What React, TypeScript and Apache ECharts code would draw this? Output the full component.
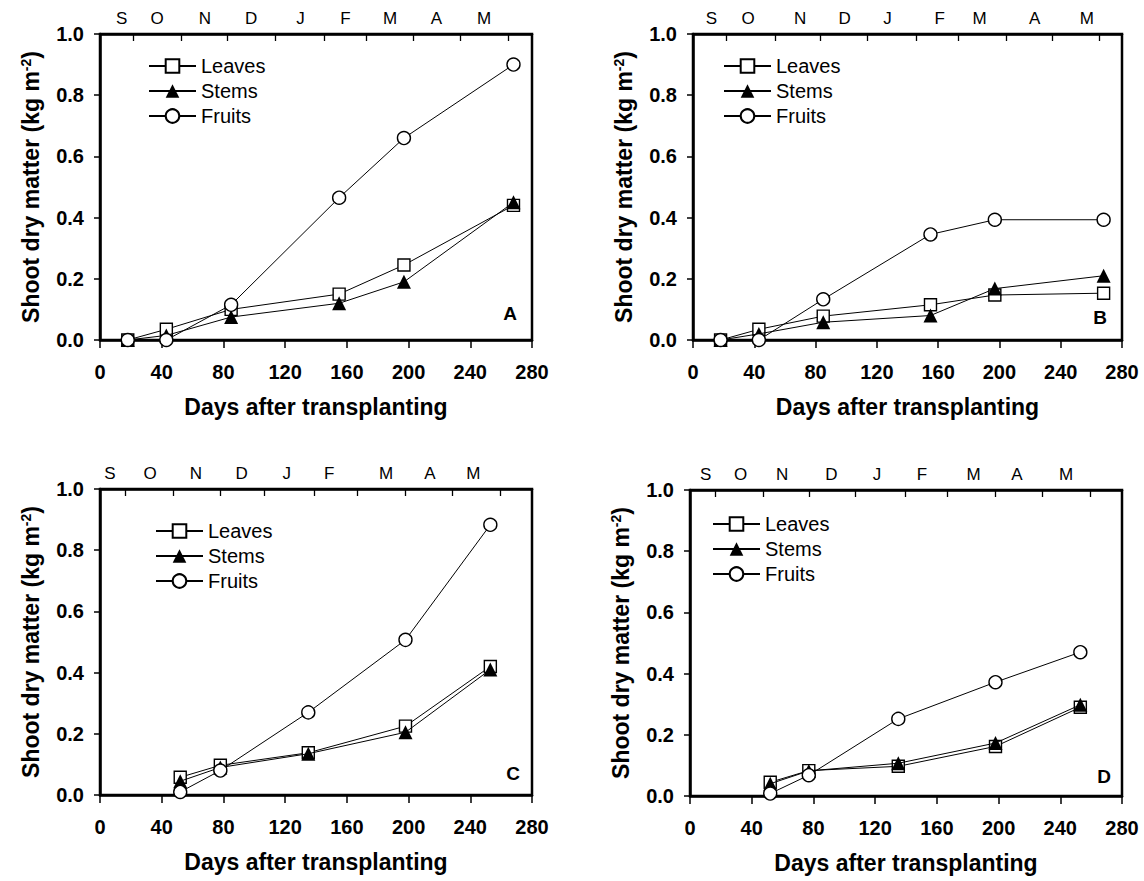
import React, { useEffect, useRef } from 'react';
import * as echarts from 'echarts';

// ---------- data ----------
const monthLetters = ['S', 'O', 'N', 'D', 'J', 'F', 'M', 'A', 'M'];

const daysA = [18, 43, 85, 155, 197, 268];
const leavesA = [0.0, 0.035, 0.1, 0.15, 0.245, 0.44];
const stemsA = [0.0, 0.015, 0.075, 0.12, 0.19, 0.45];
const fruitsA = [0.0, 0.0, 0.115, 0.465, 0.66, 0.9];
const monthTicksA = [21.6, 52.9, 82.8, 113.9, 145.4, 172.8, 203, 233.3, 264.6];
const monthLabelPosA = [14, 37, 68, 98, 130, 159, 188, 218, 249];

const daysB = [18, 43, 85, 155, 197, 268];
const leavesB = [0.0, 0.035, 0.078, 0.115, 0.147, 0.153];
const stemsB = [0.0, 0.02, 0.058, 0.08, 0.168, 0.21];
const fruitsB = [0.0, 0.0, 0.133, 0.345, 0.393, 0.393];
const monthTicksB = [22, 53.5, 83, 114, 145.6, 172.9, 204.3, 234.8, 264.9];
const monthLabelPosB = [12, 36, 70, 99, 127, 161, 187, 223, 257];

const daysC = [52, 78, 135, 198, 253];
const leavesC = [0.058, 0.097, 0.138, 0.225, 0.42];
const stemsC = [0.045, 0.09, 0.135, 0.205, 0.41];
const fruitsC = [0.01, 0.08, 0.27, 0.507, 0.883];
const monthTicksC = [16.2, 47.5, 77.8, 106.5, 138.9, 167, 198.1, 228.3, 259.2];
const monthLabelPosC = [6.5, 32.4, 62.2, 91.8, 121, 148.6, 185.4, 213.9, 242];

const daysD = [52, 77, 135, 198, 253];
const leavesD = [0.045, 0.083, 0.097, 0.162, 0.29];
const stemsD = [0.04, 0.082, 0.107, 0.173, 0.298];
const fruitsD = [0.008, 0.068, 0.252, 0.372, 0.47];
const monthTicksD = [16.2, 47.5, 77.5, 106.8, 139.2, 166.6, 197.9, 228.1, 259.3];
const monthLabelPosD = [10.2, 32.8, 59.8, 91.7, 121.2, 150.3, 183.8, 211.9, 243.8];

const seriesNames = ['Leaves', 'Stems', 'Fruits'];
const xTickLabels = [0, 40, 80, 120, 160, 200, 240, 280];
const yTickLabels = [0, 0.2, 0.4, 0.6, 0.8, 1.0];
const panelLetters = ['A', 'B', 'C', 'D'];

// ---------- layout ----------
const SANS = '"Liberation Sans", Arial, sans-serif';

const panels = [
  { days: daysA, vals: [leavesA, stemsA, fruitsA], ticks: monthTicksA, labs: monthLabelPosA,
    grid: { left: 100, top: 34, width: 432, height: 306 }, legend: { left: 148, top: 56 }, letter: [510, 313] },
  { days: daysB, vals: [leavesB, stemsB, fruitsB], ticks: monthTicksB, labs: monthLabelPosB,
    grid: { left: 693, top: 34, width: 429, height: 306 }, legend: { left: 723, top: 56 }, letter: [1100, 317] },
  { days: daysC, vals: [leavesC, stemsC, fruitsC], ticks: monthTicksC, labs: monthLabelPosC,
    grid: { left: 100, top: 489, width: 432, height: 306 }, legend: { left: 155, top: 521 }, letter: [513, 773] },
  { days: daysD, vals: [leavesD, stemsD, fruitsD], ticks: monthTicksD, labs: monthLabelPosD,
    grid: { left: 690, top: 490, width: 432, height: 306 }, legend: { left: 712, top: 514 }, letter: [1104, 776] },
];

const symbolDefs = [
  { symbol: 'rect', size: 12, item: { color: '#fff', borderColor: '#000', borderWidth: 1.4 } },
  { symbol: 'triangle', size: 14, item: { color: '#000', borderColor: '#000', borderWidth: 0 } },
  { symbol: 'circle', size: 13, item: { color: '#fff', borderColor: '#000', borderWidth: 1.4 } },
];

function buildOption() {
  const grid: any[] = [];
  const xAxis: any[] = [];
  const yAxis: any[] = [];
  const series: any[] = [];
  const legend: any[] = [];
  const graphic: any[] = [];

  panels.forEach((p, i) => {
    grid.push({ ...p.grid, show: true, borderColor: '#000', borderWidth: 2.5, backgroundColor: 'transparent' });

    xAxis.push({
      type: 'value', gridIndex: i, position: 'bottom', min: xTickLabels[0], max: xTickLabels[xTickLabels.length - 1], interval: 40,
      axisLine: { show: true, lineStyle: { color: '#000', width: 2.5 } },
      axisTick: { show: true, length: 8, lineStyle: { color: '#000', width: 1.5 } },
      axisLabel: { color: '#000', fontSize: 20, fontWeight: 'bold', fontFamily: SANS, margin: 22 },
      splitLine: { show: false },
      name: 'Days after transplanting', nameLocation: 'middle', nameGap: 55,
      nameTextStyle: { color: '#000', fontSize: 23, fontWeight: 'bold', fontFamily: SANS },
    });
    const labs = p.labs;
    xAxis.push({
      type: 'value', gridIndex: i, position: 'top', min: 0, max: 280,
      axisLine: { show: true, lineStyle: { color: '#000', width: 2.5 } },
      axisTick: { show: true, inside: true, length: 7, customValues: p.ticks, lineStyle: { color: '#000', width: 1.3 } },
      axisLabel: {
        show: true, customValues: labs, color: '#000', fontSize: 17, fontFamily: SANS, margin: 7, hideOverlap: false,
        formatter: (v: number) => {
          let best = 0;
          labs.forEach((l, k) => { if (Math.abs(l - v) < Math.abs(labs[best] - v)) best = k; });
          return monthLetters[best];
        },
      },
      splitLine: { show: false },
    });
    yAxis.push({
      type: 'value', gridIndex: i, min: yTickLabels[0], max: yTickLabels[yTickLabels.length - 1], interval: 0.2,
      axisLine: { show: true, lineStyle: { color: '#000', width: 2.5 } },
      axisTick: { show: true, length: 6, lineStyle: { color: '#000', width: 1.5 } },
      axisLabel: { color: '#000', fontSize: 20, fontWeight: 'bold', fontFamily: SANS, margin: 16, formatter: (v: number) => v.toFixed(1) },
      splitLine: { show: false },
      name: '{a|Shoot dry matter (kg m}{s|-2}{a|)}', nameLocation: 'middle', nameRotate: 90, nameGap: 58,
      nameTextStyle: {
        rich: {
          a: { fontSize: 23, fontWeight: 'bold', fontFamily: SANS, color: '#000' },
          s: { fontSize: 14, fontWeight: 'bold', fontFamily: SANS, color: '#000', verticalAlign: 'top' },
        },
      },
    });

    seriesNames.forEach((name, k) => {
      const sd = symbolDefs[k];
      series.push({
        type: 'line', name, xAxisIndex: 2 * i, yAxisIndex: i,
        data: p.days.map((d, j) => [d, p.vals[k][j]]),
        symbol: sd.symbol, symbolSize: sd.size, showAllSymbol: true,
        lineStyle: { color: '#000', width: 1 },
        itemStyle: sd.item,
        z: 3 + k,
      });
    });

    legend.push({
      orient: 'vertical', left: p.legend.left, top: p.legend.top, padding: 0,
      itemWidth: 47, itemHeight: 17, itemGap: 5,
      textStyle: { color: '#000', fontSize: 20, fontFamily: SANS },
      data: seriesNames,
    });

    graphic.push({
      type: 'text', x: p.letter[0], y: p.letter[1],
      style: { text: panelLetters[i], fontSize: 19, fontWeight: 'bold', fontFamily: SANS, fill: '#000', align: 'center', verticalAlign: 'middle' },
    });
  });

  return { animation: false, backgroundColor: '#fff', grid, xAxis, yAxis, series, legend, graphic };
}

export default function App() {
  const ref = useRef<HTMLDivElement>(null);
  useEffect(() => {
    if (!ref.current) return;
    const chart = echarts.init(ref.current, undefined, { renderer: 'svg' });
    chart.setOption(buildOption() as any);
    return () => chart.dispose();
  }, []);
  return <div ref={ref} style={{ position: 'fixed', left: 0, top: 0, width: 1144, height: 881, background: '#fff' }} />;
}
